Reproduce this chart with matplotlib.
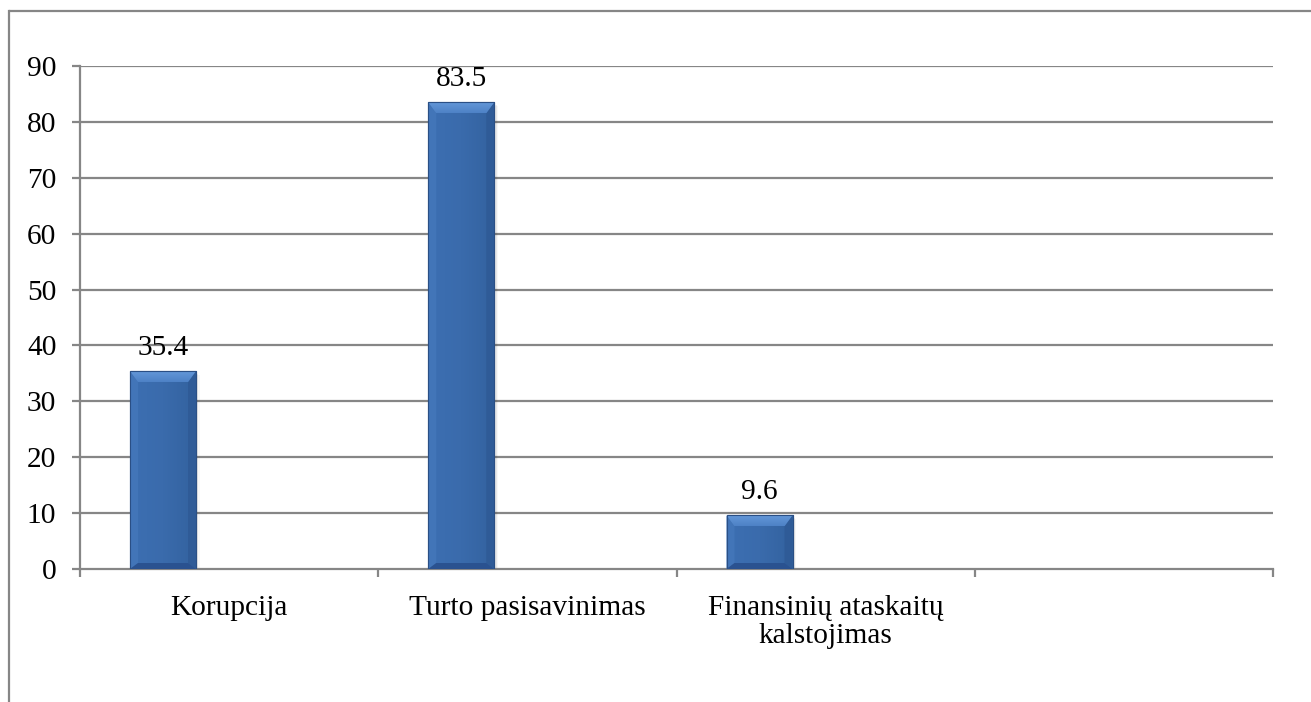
import matplotlib
matplotlib.use("Agg")
import matplotlib.pyplot as plt
from matplotlib.patches import Polygon, Rectangle
from matplotlib.lines import Line2D
from matplotlib.colors import LinearSegmentedColormap
import numpy as np

categories = ["Korupcija", "Turto pasisavinimas", "Finansinių ataskaitų\nkalstojimas", ""]
values = [35.4, 83.5, 9.6]
value_labels = ["35.4", "83.5", "9.6"]
y_ticks = [0, 10, 20, 30, 40, 50, 60, 70, 80, 90]

W, H = 1311, 702
DPI = 100
plt.rcParams["font.family"] = ["Liberation Serif", "DejaVu Serif"]
FS = 21.2
GRID = "#868686"

fig = plt.figure(figsize=(W / DPI, H / DPI), dpi=DPI)
fig.patch.set_facecolor("white")

# plot area in pixels
L, R, T, B = 80, 1273, 66, 569
ax = fig.add_axes([L / W, (H - B) / H, (R - L) / W, (B - T) / H])
ax.set_xlim(0, len(categories))
ax.set_ylim(0, 90)

# outer chart frame (left and top edges visible)
frame_y = 1 - 10.5 / H
fig.add_artist(Line2D([8.5 / W, 8.5 / W], [0.0, frame_y], transform=fig.transFigure,
                      color=GRID, lw=1.6, solid_capstyle="projecting"))
fig.add_artist(Line2D([8.5 / W, 1.0], [frame_y, frame_y], transform=fig.transFigure,
                      color=GRID, lw=1.6, solid_capstyle="butt"))

# gridlines
for yv in y_ticks[1:]:
    ax.axhline(yv, color=GRID, lw=1.6, zorder=1)

for s in ["top", "right"]:
    ax.spines[s].set_visible(False)
for s in ["left", "bottom"]:
    ax.spines[s].set_color(GRID)
    ax.spines[s].set_linewidth(1.6)

ax.set_yticks(y_ticks)
ax.set_yticklabels([str(v) for v in y_ticks], fontsize=FS)
ax.tick_params(axis="y", direction="out", length=6, width=1.6, color=GRID, pad=11)

# category boundaries as tick marks, labels in the middle
ax.set_xticks(np.arange(len(categories) + 1), minor=True)
ax.set_xticks(np.arange(len(categories)) + 0.5)
ax.set_xticklabels(categories, fontsize=FS, linespacing=1.1)
ax.tick_params(axis="x", which="major", length=0, pad=19)
ax.tick_params(axis="x", which="minor", direction="out", length=6, width=1.6, color=GRID)

# bars: first slot of three within each category
slot_lo, slot_hi = 50 / 298.25, 116 / 298.25
centers = np.arange(len(values)) + (slot_lo + slot_hi) / 2
width = slot_hi - slot_lo

px_x = len(categories) / (R - L)
px_y = 90 / (B - T)
bev_x, bev_top, bev_bot = 8, 11, 6  # bevel sizes in pixels

bars = ax.bar(centers, values, width=width, color="#3a6aab", edgecolor="#2b5389",
              linewidth=0.8, zorder=3)

body_cmap = LinearSegmentedColormap.from_list("body", ["#3c6fb2", "#3a6bac", "#33629f"])
top_cmap = LinearSegmentedColormap.from_list("top", ["#4e82c6", "#6397d8"])

for rect in bars:
    x0 = rect.get_x()
    x1 = x0 + rect.get_width()
    y1 = rect.get_height()
    y0 = 0
    bx = bev_x * px_x
    bt = bev_top * px_y
    bb = bev_bot * px_y
    # soft shadow
    for k, a in enumerate([0.10, 0.06, 0.03]):
        d = (k + 1) * 1.2
        ax.add_patch(Rectangle((x0 + d * px_x, y0 - d * px_y), x1 - x0, y1 - y0,
                               facecolor="black", alpha=a, lw=0, zorder=2))
    # body
    grad = np.linspace(0, 1, 64).reshape(1, -1)
    ax.imshow(grad, extent=(x0, x1, y0, y1), aspect="auto",
              cmap=body_cmap, zorder=3.5, interpolation="bicubic")
    # bevel facets
    facets = [
        ([(x0, y0), (x0 + bx, y0 + bb), (x0 + bx, y1 - bt), (x0, y1)], "#4275b8"),
        ([(x1, y0), (x1, y1), (x1 - bx, y1 - bt), (x1 - bx, y0 + bb)], "#2f5b97"),
        ([(x0, y0), (x1, y0), (x1 - bx, y0 + bb), (x0 + bx, y0 + bb)], "#2a5290"),
    ]
    for pts, c in facets:
        ax.add_patch(Polygon(pts, closed=True, facecolor=c, edgecolor="none", zorder=4))
    top_pts = [(x0, y1), (x1, y1), (x1 - bx, y1 - bt), (x0 + bx, y1 - bt)]
    top_poly = Polygon(top_pts, closed=True, facecolor="none", edgecolor="none", zorder=4)
    ax.add_patch(top_poly)
    im = ax.imshow(np.linspace(0, 1, 32).reshape(-1, 1), extent=(x0, x1, y1 - bt, y1),
                   aspect="auto", cmap=top_cmap, origin="lower", zorder=4.2,
                   interpolation="bicubic")
    im.set_clip_path(top_poly)
    ax.add_patch(Rectangle((x0, y0), x1 - x0, y1 - y0, facecolor="none",
                           edgecolor="#2a4f85", lw=0.8, zorder=4.5))

for c, v, lab in zip(centers, values, value_labels):
    ax.text(c, v + 16 * px_y, lab, ha="center", va="baseline", fontsize=FS, zorder=5)

ax.set_xlim(0, len(categories))
ax.set_ylim(0, 90)

fig.savefig("out.png", dpi=DPI, facecolor="white")
